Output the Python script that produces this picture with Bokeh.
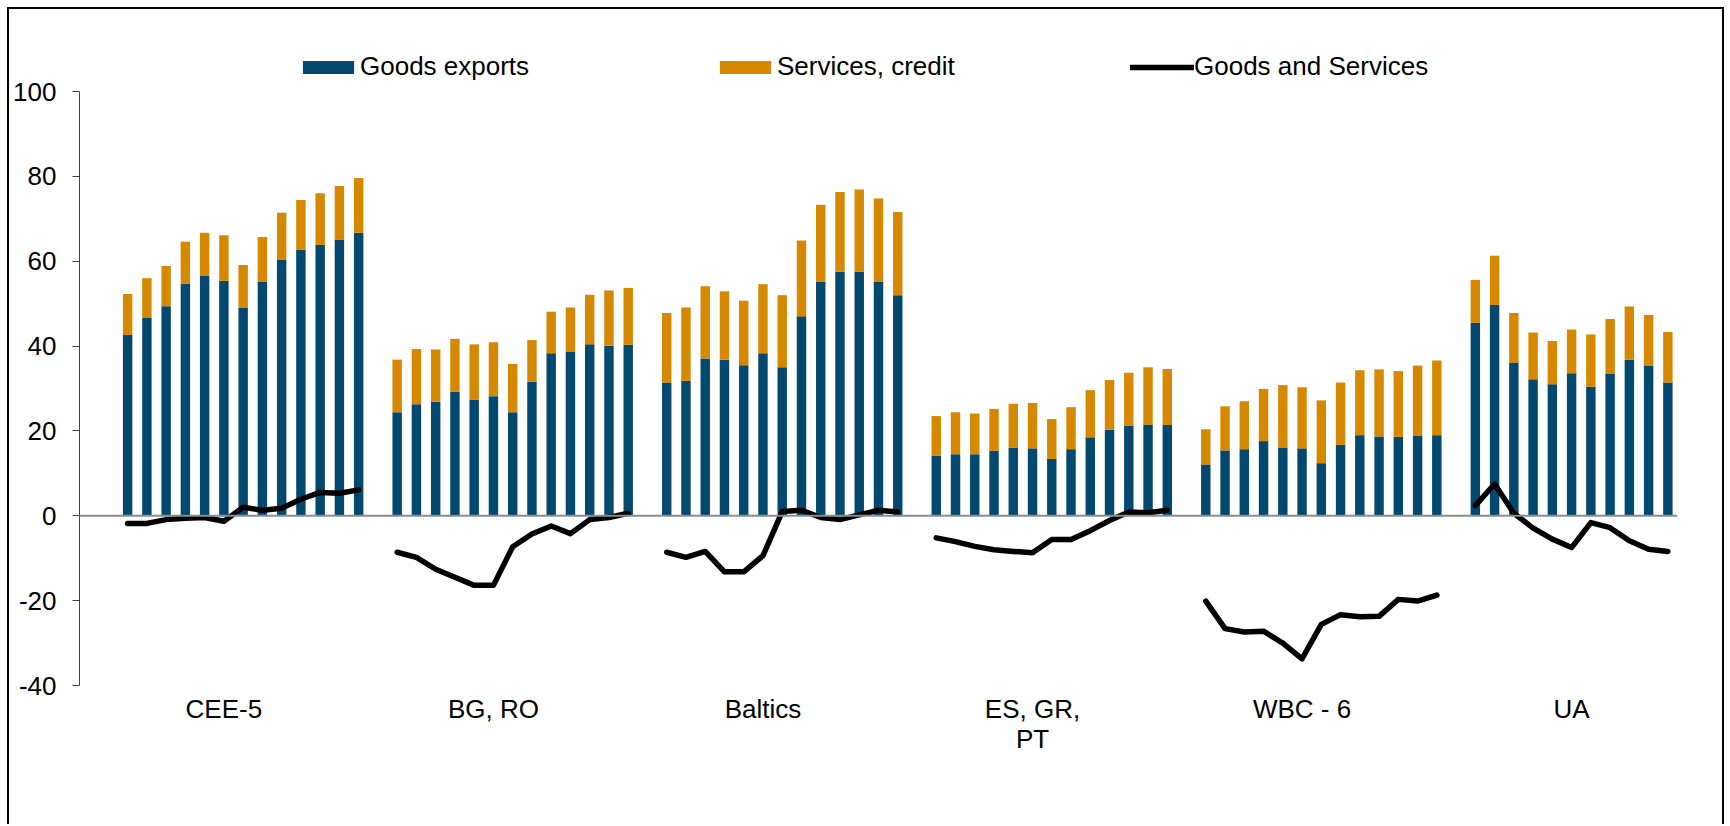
from bokeh.plotting import figure
from bokeh.models import ColumnDataSource, Span, Legend, LegendItem, FixedTicker, Range1d
from bokeh.embed import file_html
from bokeh.resources import INLINE
import math

# ---------------- data ----------------
group_names = ["CEE-5", "BG, RO", "Baltics", "ES, GR,\nPT", "WBC - 6", "UA"]

cee5_goods    = [42.6, 46.6, 49.4, 54.7, 56.5, 55.4, 49.0, 55.2, 60.3, 62.7, 63.8, 65.1, 66.7]
cee5_services = [9.7, 9.4, 9.5, 9.9, 10.2, 10.7, 10.1, 10.5, 11.1, 11.7, 12.2, 12.6, 12.9]
cee5_balance  = [-1.8, -1.8, -0.9, -0.6, -0.4, -1.3, 2.0, 1.3, 1.8, 3.9, 5.5, 5.3, 6.1]

bgro_goods    = [24.4, 26.3, 26.9, 29.2, 27.4, 28.2, 24.4, 31.6, 38.3, 38.6, 40.4, 40.1, 40.3]
bgro_services = [12.4, 13.0, 12.3, 12.5, 13.0, 12.7, 11.4, 9.8, 9.8, 10.5, 11.7, 13.0, 13.4]
bgro_balance  = [-8.6, -9.8, -12.6, -14.5, -16.4, -16.4, -7.3, -4.3, -2.4, -4.2, -0.9, -0.4, 0.6]

baltics_goods    = [31.4, 31.8, 37.1, 36.8, 35.5, 38.3, 35.0, 47.0, 55.2, 57.5, 57.5, 55.2, 52.0]
baltics_services = [16.4, 17.3, 17.0, 16.1, 15.2, 16.3, 17.0, 17.9, 18.1, 18.8, 19.4, 19.6, 19.6]
baltics_balance  = [-8.6, -9.8, -8.4, -13.2, -13.2, -9.4, 1.0, 1.3, -0.4, -0.9, 0.2, 1.3, 0.9]

esgrpt_goods    = [14.2, 14.5, 14.5, 15.3, 16.0, 15.9, 13.4, 15.7, 18.5, 20.3, 21.2, 21.5, 21.4]
esgrpt_services = [9.3, 9.9, 9.6, 9.9, 10.4, 10.7, 9.4, 9.9, 11.1, 11.7, 12.5, 13.5, 13.2]
esgrpt_balance  = [-5.2, -6.1, -7.2, -8.0, -8.4, -8.7, -5.6, -5.6, -3.5, -1.1, 0.9, 0.7, 1.3]

wbc6_goods    = [12.1, 15.4, 15.7, 17.6, 16.1, 15.9, 12.4, 16.7, 19.0, 18.7, 18.6, 18.8, 19.0]
wbc6_services = [8.3, 10.4, 11.3, 12.3, 14.7, 14.4, 14.8, 14.7, 15.3, 15.8, 15.5, 16.6, 17.6]
wbc6_balance  = [-20.1, -26.6, -27.4, -27.2, -30.0, -33.7, -25.6, -23.3, -23.8, -23.7, -19.7, -20.1, -18.7]

ua_goods    = [45.5, 49.7, 36.1, 32.2, 31.0, 33.6, 30.4, 33.4, 36.8, 35.3, 31.4]
ua_services = [10.1, 11.6, 11.7, 11.0, 10.2, 10.3, 12.3, 13.0, 12.5, 12.0, 11.9]
ua_balance  = [2.4, 7.5, 0.6, -2.9, -5.5, -7.5, -1.6, -2.8, -5.9, -7.9, -8.4]

y_ticks = [-40, -20, 0, 20, 40, 60, 80, 100]

# ---------------- assemble ----------------
all_goods = [cee5_goods, bgro_goods, baltics_goods, esgrpt_goods, wbc6_goods, ua_goods]
all_services = [cee5_services, bgro_services, baltics_services, esgrpt_services, wbc6_services, ua_services]
all_balance = [cee5_balance, bgro_balance, baltics_balance, esgrpt_balance, wbc6_balance, ua_balance]

SLOTS = 14          # 13 slots per group + 1 empty slot
LABEL_SLOT = 5

bx, bg, bs = [], [], []
lx, ly = [], []
label_x = []
for gi, (gg, ss, bb) in enumerate(zip(all_goods, all_services, all_balance)):
    start = gi * SLOTS
    label_x.append(start + LABEL_SLOT)
    for k in range(len(gg)):
        bx.append(start + k)
        bg.append(gg[k])
        bs.append(ss[k])
        lx.append(start + k)
        ly.append(bb[k])
    lx.append(start + len(gg))
    ly.append(math.nan)

bar_src = ColumnDataSource(dict(x=bx, goods=bg, services=bs))
line_src = ColumnDataSource(dict(x=lx, balance=ly))

BLUE = "#02486F"
ORANGE = "#D58800"
FONT = "Liberation Sans"
FS = "26px"

# frame: 645 px tall; the value axis runs from -40 to 100 (594 px), the extra
# room on top holds the legend inside the frame
Y_TOP = -40 + 645 * 140 / 594

p = figure(width=1717, height=817,
           x_range=Range1d(-2.5, 80.5), y_range=Range1d(-40, Y_TOP),
           output_backend="svg", toolbar_location=None,
           min_border_left=70, min_border_right=49, min_border_top=31, min_border_bottom=141)
p.styles = {"margin-left": "7px", "margin-top": "7px",
            "border-left": "2px solid black", "border-top": "2px solid black",
            "border-right": "2px solid black"}
p.outline_line_color = None
p.xgrid.visible = False
p.ygrid.visible = False
p.background_fill_color = "white"
p.border_fill_color = "white"

stack = p.vbar_stack(["goods", "services"], x="x", width=0.49, color=[BLUE, ORANGE],
                     line_color=None, source=bar_src)

zero = Span(location=0, dimension="width", line_color="#8c8c8c", line_width=2)
p.add_layout(zero)

ln = p.line("x", "balance", source=line_src, line_color="black", line_width=5.5,
            line_join="round", line_cap="round")

# axes
yax = p.yaxis[0]
yax.ticker = FixedTicker(ticks=y_ticks)
yax.major_label_overrides = {t: str(t) for t in y_ticks}
yax.bounds = (min(y_ticks), max(y_ticks))
yax.minor_tick_line_color = None
yax.major_tick_in = 0
yax.major_tick_out = 7
yax.axis_line_color = "#404040"
yax.major_tick_line_color = "#404040"
yax.major_label_text_font = FONT
yax.major_label_text_font_size = FS
yax.major_label_text_color = "black"
yax.major_label_standoff = 16

xax = p.xaxis[0]
xax.ticker = FixedTicker(ticks=label_x)
xax.major_label_overrides = {x: n for x, n in zip(label_x, group_names)}
xax.axis_line_color = None
xax.major_tick_line_color = None
xax.minor_tick_line_color = None
xax.major_tick_in = 0
xax.major_tick_out = 0
xax.major_label_text_font = FONT
xax.major_label_text_font_size = FS
xax.major_label_text_color = "black"
xax.major_label_text_line_height = 1.0
xax.major_label_standoff = 8

legend = Legend(items=[LegendItem(label="Goods exports", renderers=[stack[0]]),
                       LegendItem(label="Services, credit", renderers=[stack[1]]),
                       LegendItem(label="Goods and Services", renderers=[ln])],
                orientation="horizontal", location=(217, 603),
                glyph_width=64, glyph_height=16, label_standoff=0, label_height=30,
                label_width=335, spacing=18, padding=0, margin=0,
                border_line_color=None, background_fill_alpha=0,
                label_text_font=FONT, label_text_font_size=FS, label_text_color="black")
p.add_layout(legend, "center")

open("out.html", "w").write(file_html(p, INLINE))
